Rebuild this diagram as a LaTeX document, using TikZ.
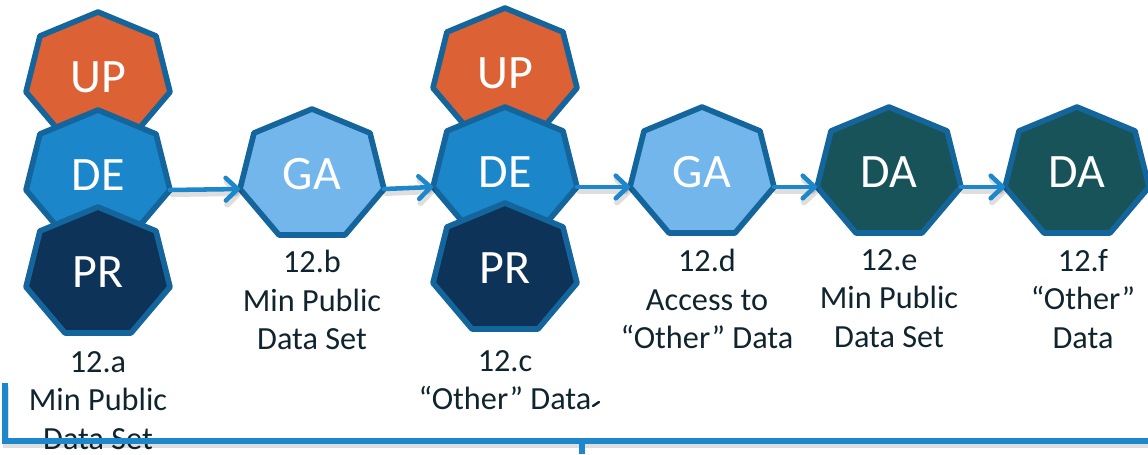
\documentclass[tikz,border=0pt]{standalone}
\usepackage{fontspec}
\setmainfont{Carlito}
\usetikzlibrary{arrows.meta}
\definecolor{edgeblue}{HTML}{13659B}
\definecolor{linkblue}{HTML}{1D87CC}
\definecolor{upfill}{HTML}{DC6135}
\definecolor{defill}{HTML}{1B87CA}
\definecolor{gafill}{HTML}{72B6EC}
\definecolor{prfill}{HTML}{0E3358}
\definecolor{dafill}{HTML}{185359}
\definecolor{labelink}{HTML}{10242F}
\tikzset{
  hept/.style={draw=edgeblue,line width=4.2pt,line join=round},
  heptext/.style={text=white,font=\fontsize{36}{40}\selectfont,anchor=base,inner sep=0pt},
  caption/.style={text=labelink,font=\fontsize{24.2}{28.9}\selectfont,align=center,anchor=north,inner sep=0pt},
  link/.style={draw=linkblue,line width=3.4pt,line cap=round,-{Straight Barb[round,line width=3.4pt,length=9pt,width=17pt]}},
  linkshade/.style={draw=black,opacity=.13,line width=4.5pt,line cap=round,-{Straight Barb[round,line width=4.5pt,length=9pt,width=17pt]},transform canvas={xshift=1.5pt,yshift=-3pt}},
  rail/.style={draw=linkblue,line width=3.8pt},
  railshade/.style={draw=black,opacity=.13,line width=4.5pt,transform canvas={xshift=1pt,yshift=-3pt}}
}
% name, centre x, top y, fill, text
\newcommand{\heptagon}[5]{%
  \begin{scope}[shift={(#2,#3)}]
    \filldraw[hept,fill=#4] (0,0)--(58,24)--(72,80)--(33,126)--(-33,126)--(-72,80)--(-58,24)--cycle;
    \node[heptext] (#1) at (0,80) {#5};
    \node[coordinate] (#1-l) at (-72,80) {};
    \node[coordinate] (#1-r) at (72,80) {};
  \end{scope}}
\newcommand{\linkto}[2]{\draw[linkshade] (#1) -- (#2);\draw[link] (#1) -- (#2);}
\begin{document}
\begin{tikzpicture}[x=0.75pt,y=-0.75pt]
\useasboundingbox (0,0) rectangle (1148,454);
\heptagon{up1}{98}{12}{upfill}{UP}
\heptagon{de1}{98}{110}{defill}{DE}
\heptagon{pr1}{98}{207}{prfill}{PR}
\heptagon{ga1}{312}{109}{gafill}{GA}
\heptagon{up2}{505}{8}{upfill}{UP}
\heptagon{de2}{505}{107}{defill}{DE}
\heptagon{pr2}{505}{203}{prfill}{PR}
\heptagon{ga2}{702}{107}{gafill}{GA}
\heptagon{da1}{889}{107}{dafill}{DA}
\heptagon{da2}{1077}{107}{dafill}{DA}
\linkto{de1-r}{ga1-l}
\linkto{ga1-r}{de2-l}
\linkto{de2-r}{ga2-l}
\linkto{ga2-r}{da1-l}
\linkto{da1-r}{da2-l}
\node[caption] (capa) at (98,351) {12.a\\Min Public\\Data Set};
\node[caption] (capb) at (312,250) {12.b\\Min Public\\Data Set};
\node[caption] (capc) at (505,350) {12.c\\“Other” Data};
\node[caption] (capd) at (707,249) {12.d\\Access to\\“Other” Data};
\node[caption] (cape) at (889,249) {12.e\\Min Public\\Data Set};
\node[caption] (capf) at (1083,249) {12.f\\“Other”\\Data};
\coordinate (railstart) at (5,383);
\coordinate (railcorner) at (5,441);
\coordinate (railend) at (1148,441);
\coordinate (stubtop) at (582,441);
\coordinate (stubend) at (582,454);
\coordinate (ticka) at (593,406);
\coordinate (tickb) at (599,402);
\draw[railshade] (railstart) -- (railcorner) -- (railend);
\draw[rail] (railstart) -- (railcorner) -- (railend);
\draw[rail] (stubtop) -- (stubend);
\draw[draw=labelink,line width=1.8pt,line cap=round] (ticka) -- (tickb);
\end{tikzpicture}
\end{document}
